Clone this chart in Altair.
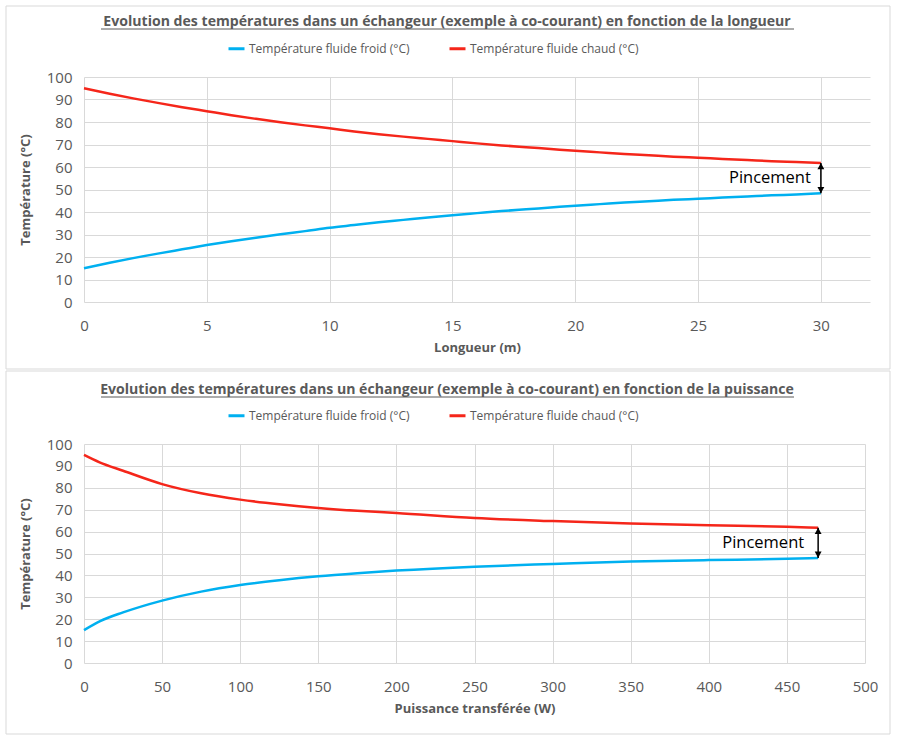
import altair as alt
import pandas as pd

# ---------------- data ----------------
SERIES = ["Température fluide froid (°C)", "Température fluide chaud (°C)"]
COLORS = ["#00B0F0", "#F5261A"]

longueur = list(range(0, 31))
long_froid = [15.0, 17.3, 19.5, 21.5, 23.4, 25.3, 27.0, 28.6, 30.1, 31.5, 33.0,
              34.2, 35.4, 36.5, 37.6, 38.6, 39.5, 40.4, 41.2, 42.0, 42.8,
              43.5, 44.2, 44.8, 45.4, 45.9, 46.4, 46.9, 47.4, 47.8, 48.3]
long_chaud = [95.0, 92.7, 90.5, 88.5, 86.6, 84.8, 83.0, 81.4, 79.9, 78.5, 77.2,
              75.8, 74.6, 73.5, 72.5, 71.5, 70.5, 69.6, 68.8, 68.0, 67.2,
              66.5, 65.8, 65.2, 64.6, 64.1, 63.6, 63.1, 62.6, 62.2, 61.8]

puissance = [0, 10, 25, 50, 75, 100, 125, 150, 175, 200, 250, 300, 350, 400, 450, 470]
puis_froid = [15.0, 19.0, 23.1, 28.5, 32.6, 35.6, 37.8, 39.6, 41.0, 42.2, 44.0,
              45.2, 46.3, 47.0, 47.6, 48.0]
puis_chaud = [95.0, 91.6, 87.8, 81.7, 77.5, 74.6, 72.5, 70.8, 69.5, 68.5, 66.2,
              64.8, 63.7, 62.9, 62.2, 61.8]

y_ticks = list(range(0, 101, 10))
long_ticks = [0, 5, 10, 15, 20, 25, 30]
puis_ticks = list(range(0, 501, 50))

TITLE_TOP = "Evolution des températures dans un échangeur (exemple à co-courant) en fonction de la longueur"
TITLE_BOT = "Evolution des températures dans un échangeur (exemple à co-courant) en fonction de la puissance"

GREY = "#595959"
GRID = "#D9D9D9"
FONT = "Open Sans"


def panel(xs, froid, chaud, xdom, xticks, xtitle, title, w, h, frame_top, frame_bot, title_y,
          lab_dx):
    rows = []
    for x, f, c in zip(xs, froid, chaud):
        rows.append({"x": x, "t": f, "serie": SERIES[0]})
        rows.append({"x": x, "t": c, "serie": SERIES[1]})
    df = pd.DataFrame(rows)

    xsc = alt.Scale(domain=xdom, nice=False, zero=False)
    ysc = alt.Scale(domain=[0, 100], nice=False)
    xaxis = alt.Axis(values=xticks, title=xtitle, grid=True, gridColor=GRID, domain=False,
                     ticks=False, labelFont=FONT, labelFontSize=15, labelColor=GREY,
                     labelPadding=16, titleFont=FONT, titleFontSize=13, titleFontWeight="bold",
                     titleColor=GREY, titlePadding=8, labelFlush=False, labelOverlap=False)
    yaxis = alt.Axis(values=y_ticks, title="Température (°C)", grid=True, gridColor=GRID,
                     domain=False, ticks=False, labelFont=FONT, labelFontSize=15,
                     labelColor=GREY, labelPadding=12, titleFont=FONT, titleFontSize=13,
                     titleFontWeight="bold", titleColor=GREY, titlePadding=14,
                     labelOverlap=False)

    def X():
        return alt.X("x:Q", scale=xsc, axis=xaxis)

    def Y():
        return alt.Y("t:Q", scale=ysc, axis=yaxis)

    one = alt.InlineData(values=[{"k": 1}])

    frame = alt.Chart(one).mark_rect(filled=False, stroke=GRID, strokeWidth=1).encode(
        x=alt.value(-78), x2=alt.value(806), y=alt.value(frame_top), y2=alt.value(frame_bot))

    lines = alt.Chart(df).mark_line(strokeWidth=2.5, interpolate="monotone").encode(
        x=X(), y=Y(),
        color=alt.Color("serie:N", scale=alt.Scale(domain=SERIES, range=COLORS),
                        legend=alt.Legend(orient="none", legendX=143, legendY=-38,
                                          direction="horizontal", title=None,
                                          symbolType="stroke", symbolSize=256,
                                          symbolStrokeWidth=3, labelFont=FONT,
                                          labelFontSize=12, labelColor=GREY, labelLimit=0,
                                          columnPadding=33, labelOffset=3)),
    )

    x_end = xs[-1]
    hot_end = chaud[-1]
    cold_end = froid[-1]
    rule_df = pd.DataFrame([{"x": x_end, "t": hot_end, "t2": cold_end}])
    up_df = pd.DataFrame([{"x": x_end, "t": hot_end}])
    down_df = pd.DataFrame([{"x": x_end, "t": cold_end}])
    mid_df = pd.DataFrame([{"x": x_end, "t": (hot_end + cold_end) / 2, "lab": "Pincement"}])

    rule = alt.Chart(rule_df).mark_rule(color="black", strokeWidth=1.5).encode(
        x=X(), y=Y(), y2="t2:Q")
    up = alt.Chart(up_df).mark_point(shape="M0,0L-0.6,1.1L0.6,1.1Z", filled=True, color="black",
                                     opacity=1, size=130).encode(x=X(), y=Y())
    down = alt.Chart(down_df).mark_point(shape="M0,0L-0.6,-1.1L0.6,-1.1Z", filled=True,
                                         color="black", opacity=1, size=130).encode(x=X(), y=Y())
    lab = alt.Chart(mid_df).mark_text(align="right", baseline="middle", dx=lab_dx, font=FONT,
                                      fontSize=16.5, color="black").encode(
        x=X(), y=Y(), text="lab:N")

    ttl = alt.Chart(one).mark_text(text=title, font=FONT, fontSize=14.1, fontWeight="bold",
                                   color=GREY, align="center", baseline="alphabetic").encode(
        x=alt.value(363), y=alt.value(title_y))
    ul = alt.Chart(one).mark_rule(color=GREY, strokeWidth=1).encode(
        x=alt.value(17), x2=alt.value(710), y=alt.value(title_y + 3))

    return alt.layer(frame, lines, rule, up, down, lab, ttl, ul).properties(width=w, height=h)


top = panel(longueur, long_froid, long_chaud, [0, 32], long_ticks, "Longueur (m)",
            TITLE_TOP, 786, 225, -71, 292, -51, -10)
bot = panel(puissance, puis_froid, puis_chaud, [0, 500], puis_ticks, "Puissance transférée (W)",
            TITLE_BOT, 781, 219, -73, 290, -50, -14)

chart = alt.vconcat(top, bot, spacing=0).resolve_scale(color="independent").resolve_legend(
    color="independent").properties(
    padding={"left": 5, "top": 5, "right": 5, "bottom": 5}
).configure(background="white").configure_view(stroke=None)

chart.save("out.html", embed_options={"renderer": "svg", "actions": False})
